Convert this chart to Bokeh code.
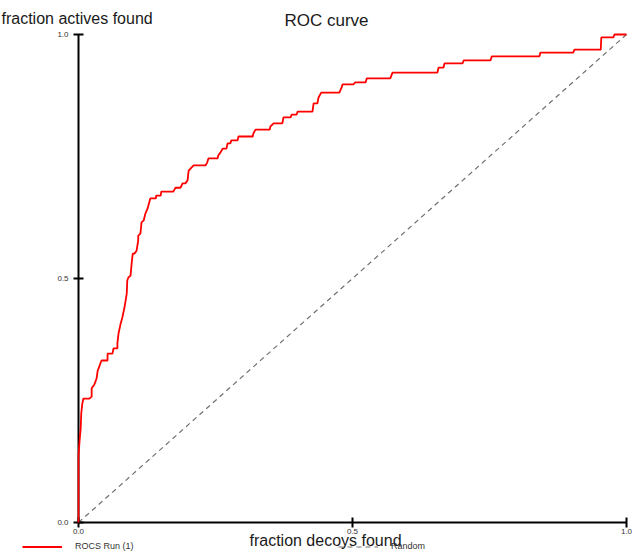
from bokeh.plotting import figure
from bokeh.models import (Label, Legend, LegendItem, FixedTicker,
                          NumeralTickFormatter, Range1d)
from bokeh.embed import file_html
from bokeh.resources import INLINE

# ROC curve vertices (fraction decoys found, fraction actives found)
fpr = [0.000, 0.000, 0.002, 0.004, 0.005, 0.007, 0.009, 0.020, 0.024, 0.024,
       0.029, 0.033, 0.035, 0.038, 0.042, 0.053, 0.053, 0.062, 0.064, 0.071,
       0.071, 0.073, 0.077, 0.080, 0.084, 0.088, 0.089, 0.091, 0.095, 0.097,
       0.099, 0.102, 0.106, 0.109, 0.109, 0.113, 0.115, 0.119, 0.122, 0.126,
       0.130, 0.131, 0.141, 0.142, 0.150, 0.151, 0.173, 0.177, 0.186, 0.190,
       0.195, 0.199, 0.201, 0.210, 0.232, 0.235, 0.237, 0.254, 0.255, 0.259,
       0.263, 0.270, 0.272, 0.277, 0.279, 0.290, 0.292, 0.318, 0.319, 0.323,
       0.349, 0.350, 0.356, 0.372, 0.374, 0.387, 0.389, 0.398, 0.400, 0.427,
       0.429, 0.436, 0.438, 0.443, 0.476, 0.480, 0.482, 0.502, 0.505, 0.524,
       0.526, 0.569, 0.573, 0.655, 0.657, 0.666, 0.668, 0.701, 0.703, 0.752,
       0.754, 0.841, 0.843, 0.903, 0.905, 0.953, 0.954, 0.976, 0.978, 1.000]
tpr = [0.000, 0.137, 0.168, 0.193, 0.223, 0.244, 0.254, 0.254, 0.258, 0.275,
       0.283, 0.295, 0.311, 0.320, 0.332, 0.332, 0.346, 0.346, 0.357, 0.357,
       0.367, 0.387, 0.408, 0.420, 0.441, 0.469, 0.496, 0.502, 0.506, 0.531,
       0.551, 0.551, 0.557, 0.578, 0.588, 0.592, 0.615, 0.619, 0.633, 0.643,
       0.660, 0.664, 0.664, 0.670, 0.670, 0.678, 0.678, 0.686, 0.686, 0.695,
       0.695, 0.701, 0.721, 0.732, 0.732, 0.738, 0.746, 0.746, 0.752, 0.758,
       0.766, 0.766, 0.777, 0.777, 0.783, 0.783, 0.791, 0.791, 0.797, 0.805,
       0.805, 0.811, 0.818, 0.818, 0.830, 0.830, 0.836, 0.836, 0.842, 0.842,
       0.859, 0.859, 0.871, 0.881, 0.881, 0.891, 0.898, 0.898, 0.902, 0.902,
       0.910, 0.910, 0.922, 0.922, 0.932, 0.932, 0.941, 0.941, 0.947, 0.947,
       0.955, 0.955, 0.963, 0.963, 0.969, 0.969, 0.994, 0.994, 1.000, 1.000]

random_x = [0.0, 1.0]
random_y = [0.0, 1.0]
ticks = [0.0, 0.5, 1.0]

title_text = "ROC curve"
x_label_text = "fraction decoys found"
y_label_text = "fraction actives found"
roc_name = "ROCS Run (1)"
random_name = "Random"

FONT = "Liberation Sans"
W, H = 632, 552
# plot box (0..1 on both axes) in pixels inside the canvas
BOX_L, BOX_R, BOX_T, BOX_B = 78, 626, 34, 522
sx = (BOX_R - BOX_L)
sy = (BOX_B - BOX_T)

p = figure(width=W, height=H, output_backend="svg", toolbar_location=None,
           x_range=Range1d(-BOX_L / sx, (W - BOX_L) / sx),
           y_range=Range1d(-(H - BOX_B) / sy, BOX_B / sy), title=None)
p.min_border = 0
p.min_border_left = 0
p.min_border_right = 0
p.min_border_top = 0
p.min_border_bottom = 0
p.outline_line_color = None
p.xgrid.visible = False
p.ygrid.visible = False
p.background_fill_color = "white"
p.border_fill_color = "white"

for ax in (p.xaxis[0], p.yaxis[0]):
    ax.fixed_location = 0
    ax.bounds = (0, 1)
    ax.ticker = FixedTicker(ticks=ticks)
    ax.formatter = NumeralTickFormatter(format="0.0")
    ax.axis_line_color = "black"
    ax.axis_line_width = 2
    ax.major_tick_line_color = "black"
    ax.major_tick_line_width = 2
    ax.major_tick_in = 5
    ax.major_tick_out = 5
    ax.minor_tick_line_color = None
    ax.major_label_text_font = FONT
    ax.major_label_text_font_size = "8px"
    ax.major_label_text_color = "#333333"
p.xaxis[0].major_label_standoff = 1
p.yaxis[0].major_label_standoff = 5

rnd = p.line(random_x, random_y, line_color="#707070", line_width=1.2,
             line_dash="5 4")
roc = p.line(fpr, tpr, line_color="#ff0000", line_width=1.8)
roc.level = "overlay"

p.add_layout(Label(x=326, y=H - 20, x_units="screen", y_units="screen",
                   text=title_text, text_font=FONT, text_font_size="17px",
                   text_color="#1a1a1a", text_align="center",
                   text_baseline="middle"))
p.add_layout(Label(x=1, y=H - 18, x_units="screen", y_units="screen",
                   text=y_label_text, text_font=FONT, text_font_size="16px",
                   text_color="#1a1a1a", text_align="left",
                   text_baseline="middle"))
p.add_layout(Label(x=325, y=H - 540, x_units="screen", y_units="screen",
                   text=x_label_text, text_font=FONT, text_font_size="16px",
                   text_color="#1a1a1a", text_align="center",
                   text_baseline="middle"))

for rend, name, loc in ((roc, roc_name, (22, 1)),
                        (rnd, random_name, (338, 1))):
    lg = Legend(items=[LegendItem(label=name, renderers=[rend])], location=loc)
    lg.border_line_color = None
    lg.background_fill_alpha = 0
    lg.padding = 0
    lg.margin = 0
    lg.spacing = 0
    lg.glyph_width = 40
    lg.glyph_height = 9
    lg.label_height = 9
    lg.label_standoff = 13
    lg.label_text_font = FONT
    lg.label_text_font_size = "9px"
    lg.label_text_color = "#333333"
    p.add_layout(lg)

open("out.html", "w").write(file_html(p, INLINE))
